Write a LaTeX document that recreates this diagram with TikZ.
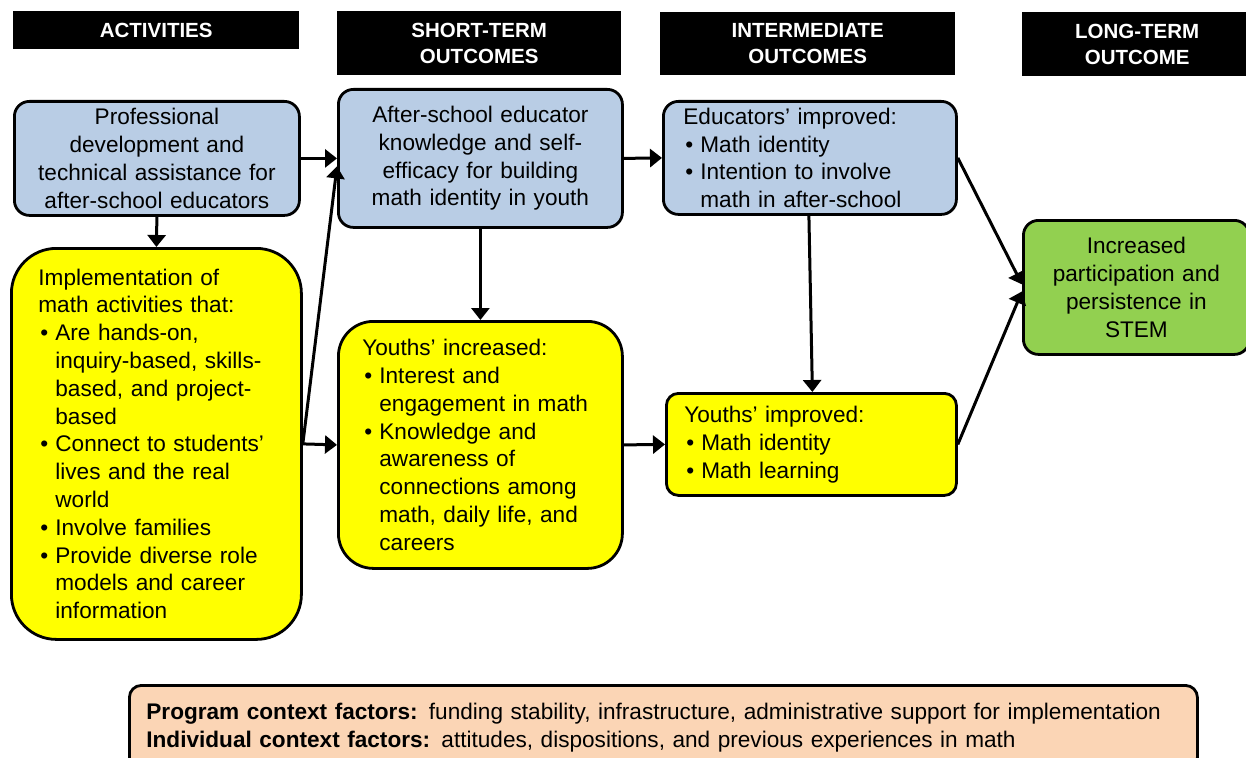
\documentclass[tikz,border=0pt]{standalone}
\usepackage{fontspec}
\setmainfont{Liberation Sans}
\usetikzlibrary{arrows.meta,calc}
\definecolor{bluef}{HTML}{B9CDE5}
\definecolor{yel}{HTML}{FFFF00}
\definecolor{grn}{HTML}{92D050}
\definecolor{peach}{HTML}{FBD5B5}
\newcommand\bul{\makebox[17pt][l]{\hspace{2pt}\textbullet}}
\newcommand\hng{\hspace*{17pt}}
\tikzset{
  hdr/.style={fill=black, text=white, font=\fontsize{20.5}{26}\selectfont\bfseries,
    align=center, inner sep=0pt, anchor=north west},
  box/.style={draw=black, line width=2.8pt, rounded corners=#1, inner ysep=0pt,
    anchor=north west, font=\fontsize{22.6}{27.8}\selectfont},
  box/.default=15pt,
  arr/.style={line width=3pt, -{Triangle[length=12pt,width=18pt]}}
}
\begin{document}
\begin{tikzpicture}[x=1pt,y=-1pt]
\useasboundingbox (0,0) rectangle (1246,757);
% headers
\node[hdr, minimum width=286pt, minimum height=38pt] (h1) at (13,11) {ACTIVITIES};
\node[hdr, minimum width=284pt, minimum height=64pt] (h2) at (337,11) {SHORT-TERM\\OUTCOMES};
\node[hdr, minimum width=295pt, minimum height=63pt] (h3) at (660,12) {INTERMEDIATE\\OUTCOMES};
\node[hdr, minimum width=230pt, minimum height=64pt] (h4) at (1022,12) {LONG-TERM\\OUTCOME};
% boxes
\node[box, fill=bluef, minimum width=285pt, minimum height=114pt, inner xsep=8pt,
  text width=269pt, align=center] (b1) at (13,100)
  {Professional\\development and\\technical assistance for\\after-school educators};
\node[box, fill=bluef, minimum width=284pt, minimum height=138pt, inner xsep=8pt,
  text width=268pt, align=center] (b2) at (337,88)
  {After-school educator\\knowledge and self-\\efficacy for building\\math identity in youth};
\node[box, fill=bluef, minimum width=293pt, minimum height=113pt, inner xsep=20pt,
  text width=253pt, align=left] (b3) at (662,100)
  {Educators’ improved:\\\bul Math identity\\\bul Intention to involve\\\hng math in after-school};
\node[box=45pt, fill=yel, minimum width=290pt, minimum height=391pt, inner xsep=27pt,
  text width=236pt, align=left] (y1) at (10,247)
  {Implementation of\\math activities that:\\\bul Are hands-on,\\\hng inquiry-based, skills-\\\hng based, and project-\\\hng based\\\bul Connect to students’\\\hng lives and the real\\\hng world\\\bul Involve families\\\bul Provide diverse role\\\hng models and career\\\hng information};
\node[box=35pt, fill=yel, minimum width=284pt, minimum height=247pt, inner xsep=24pt,
  text width=236pt, align=left] (y2) at (337,320)
  {Youths’ increased:\\\bul Interest and\\\hng engagement in math\\\bul Knowledge and\\\hng awareness of\\\hng connections among\\\hng math, daily life, and\\\hng careers};
\node[box=12pt, fill=yel, minimum width=290pt, minimum height=102pt, inner xsep=18pt,
  text width=254pt, align=left] (y3) at (665,392)
  {Youths’ improved:\\\bul Math identity\\\bul Math learning};
\node[box, fill=grn, minimum width=226pt, minimum height=134pt, inner xsep=8pt,
  text width=210pt, align=center] (g) at (1022,219)
  {Increased\\participation and\\persistence in\\STEM};
\node[box=12pt, fill=peach, minimum width=1068pt, minimum height=84pt, inner xsep=17pt,
  text width=1034pt, align=left] (ctx) at (128,684)
  {\textbf{Program context factors:} funding stability, infrastructure, administrative support for implementation\\
   \textbf{Individual context factors:} attitudes, dispositions, and previous experiences in math};
% arrows
\draw[arr] (b1.east) -- (b2.west);
\draw[arr] (y1.east) -- ($(b2.west)+(0,8)$);
\draw[arr] (y1.east) -- (y2.west);
\draw[arr] (b1.south) -- (y1.north);
\draw[arr] (b2.south) -- (y2.north);
\draw[arr] (b2.east) -- (b3.west);
\draw[arr] (y2.east) -- (y3.west);
\draw[arr] ($(b3.south)+(-1,0)$) -- ($(y3.north)+(1,0)$);
\draw[arr] (b3.east) -- ($(g.west)+(0,-3)$);
\draw[arr] (y3.east) -- ($(g.west)+(0,4)$);
\end{tikzpicture}
\end{document}
